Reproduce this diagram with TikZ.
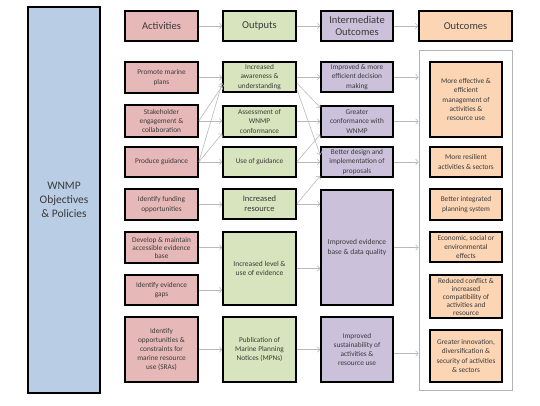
\documentclass[tikz,border=0pt]{standalone}
\usepackage{fontspec}
\setmainfont{Carlito}
\usetikzlibrary{arrows.meta}
\definecolor{bluefill}{HTML}{B9CDE5}
\definecolor{pinkfill}{HTML}{E6B9B8}
\definecolor{greenfill}{HTML}{D7E4BD}
\definecolor{purplefill}{HTML}{CCC1DA}
\definecolor{orangefill}{HTML}{FCD5B5}
\definecolor{txt}{HTML}{3A3A3A}
\tikzset{
  box/.style={draw=black, line width=1.6pt, align=center, inner sep=1pt, text=txt,
    font=\fontsize{7.3}{9.2}\selectfont},
  hdr/.style={box, font=\fontsize{10.5}{12.5}\selectfont, minimum height=30pt},
  actbox/.style={box, fill=pinkfill, minimum width=73pt},
  outbox/.style={box, fill=greenfill, minimum width=73pt},
  intbox/.style={box, fill=purplefill, minimum width=72pt},
  ocbox/.style={box, fill=orangefill, minimum width=72pt},
  conn/.style={draw=gray!55, line width=0.6pt, -{Straight Barb[length=2.5pt,width=5.5pt]}},
}
\begin{document}
\begin{tikzpicture}[x=1pt,y=-1pt]
\useasboundingbox (0,0) rectangle (540,405);
% main objective box
\node[box, fill=bluefill, minimum width=72pt, minimum height=386pt,
  font=\fontsize{11.5}{14}\selectfont] (wnmp) at (64,200) {WNMP\\Objectives\\\& Policies};
% headers
\node[hdr, fill=pinkfill, minimum width=73pt] (hact) at (161.5,26) {Activities};
\node[hdr, fill=greenfill, minimum width=73pt] (hout) at (259.5,26) {Outputs};
\node[hdr, fill=purplefill, minimum width=72pt, font=\fontsize{10.5}{12}\selectfont] (hint) at (357,26) {Intermediate\\Outcomes};
\node[hdr, fill=orangefill, minimum width=93pt] (hoc) at (465.5,26) {Outcomes};
% activities
\node[actbox, minimum height=31pt] (a1) at (161.5,77.5) {Promote marine\\plans};
\node[actbox, minimum height=32pt] (a2) at (161.5,121) {Stakeholder\\engagement \&\\collaboration};
\node[actbox, minimum height=30pt] (a3) at (161.5,162) {Produce guidance};
\node[actbox, minimum height=31pt] (a4) at (161.5,204.5) {Identify funding\\opportunities};
\node[actbox, minimum height=31pt, font=\fontsize{7.3}{8}\selectfont] (a5) at (161.5,247.5) {Develop \& maintain\\accessible evidence\\base};
\node[actbox, minimum height=30pt] (a6) at (161.5,290) {Identify evidence\\gaps};
\node[actbox, minimum height=65pt] (a7) at (161.5,349.5) {Identify\\opportunities \&\\constraints for\\marine resource\\use (SRAs)};
% outputs
\node[outbox, minimum height=30pt] (o1) at (259.5,77) {Increased\\awareness \&\\understanding};
\node[outbox, minimum height=31pt] (o2) at (259.5,121.5) {Assessment of\\WNMP\\conformance};
\node[outbox, minimum height=30pt] (o3) at (259.5,162) {Use of guidance};
\node[outbox, minimum height=30pt, font=\fontsize{8.5}{10}\selectfont] (o4) at (259.5,204) {Increased\\resource};
\node[outbox, minimum height=73pt, font=\fontsize{7.5}{9.5}\selectfont] (o5) at (259.5,268.5) {Increased level \&\\use of evidence};
\node[outbox, minimum height=65pt] (o6) at (259.5,349.5) {Publication of\\Marine Planning\\Notices (MPNs)};
% intermediate outcomes
\node[intbox, minimum height=30pt] (i1) at (357,77) {Improved \& more\\efficient decision\\making};
\node[intbox, minimum height=31pt] (i2) at (357,121.5) {Greater\\conformance with\\WNMP};
\node[intbox, minimum height=30pt] (i3) at (357,162) {Better design and\\implementation of\\proposals};
\node[intbox, minimum height=115pt, font=\fontsize{7.5}{9.5}\selectfont] (i4) at (357,247.5) {Improved evidence\\base \& data quality};
\node[intbox, minimum height=65pt] (i5) at (357,349.5) {Improved\\sustainability of\\activities \&\\resource use};
% outcomes frame
\node[draw=gray!60, line width=0.8pt, minimum width=93pt, minimum height=340pt] (frame) at (465.5,220) {};
\node[ocbox, minimum height=75pt] (c1) at (466,99.5) {More effective \&\\efficient\\management of\\activities \&\\resource use};
\node[ocbox, minimum height=30pt] (c2) at (466,162) {More resilient\\activities \& sectors};
\node[ocbox, minimum height=31pt] (c3) at (466,204.5) {Better integrated\\planning system};
\node[ocbox, minimum height=30pt] (c4) at (466,247) {Economic, social or\\environmental\\effects};
\node[ocbox, minimum height=43pt, font=\fontsize{7.3}{8}\selectfont] (c5) at (466,296.5) {Reduced conflict \&\\increased\\compatibility of\\activities and\\resource};
\node[ocbox, minimum height=52pt] (c6) at (466,356) {Greater innovation,\\diversification \&\\security of activities\\\& sectors};
% header connectors
\draw[conn] (hact.east) -- (hout.west);
\draw[conn] (hout.east) -- (hint.west);
\draw[conn] (hint.east) -- (hoc.west);
% activities -> outputs
\draw[conn] (a1.east) -- (a1.east -| o1.west);
\draw[conn] (a2.east) -- ([yshift=-9pt]o1.west);
\draw[conn] (a2.east) -- (a2.east -| o2.west);
\draw[conn] (a3.east) -- ([yshift=-6pt]o1.west);
\draw[conn] (a3.east) -- ([yshift=-12pt]o2.west);
\draw[conn] (a3.east) -- (o3.west);
\draw[conn] (a4.east) -- (a4.east -| o4.west);
\draw[conn] (a5.east) -- (a5.east -| o5.west);
\draw[conn] (a6.east) -- (a6.east -| o5.west);
\draw[conn] (a7.east) -- (o6.west);
% outputs -> intermediate
\draw[conn] (o1.east) -- (o1.east -| i1.west);
\draw[conn] ([yshift=-6pt]o1.east) -- ([yshift=14pt]i2.west);
\draw[conn] ([yshift=-12pt]o1.east) -- ([yshift=7pt]i3.west);
\draw[conn] (o2.east) -- (o2.east -| i2.west);
\draw[conn] (o3.east) -- (o3.east -| i3.west);
\draw[conn] (o3.east) -- ([yshift=-13pt]i2.west);
\draw[conn] (o4.east) -- ([yshift=-14pt]i3.west);
\draw[conn] (o4.east) -- (o4.east -| i4.west);
\draw[conn] (o5.east) -- (o5.east -| i4.west);
\draw[conn] (o6.east) -- (i5.west);
% intermediate -> outcomes
\draw[conn] (i1.east) -- (i1.east -| frame.west);
\draw[conn] (i2.east) -- (i2.east -| frame.west);
\draw[conn] (i3.east) -- (i3.east -| frame.west);
\draw[conn] (i4.east) -- (i4.east -| frame.west);
\draw[conn] ([yshift=-4pt]i5.east) -- ([yshift=-4pt]i5.east -| frame.west);
\end{tikzpicture}
\end{document}
